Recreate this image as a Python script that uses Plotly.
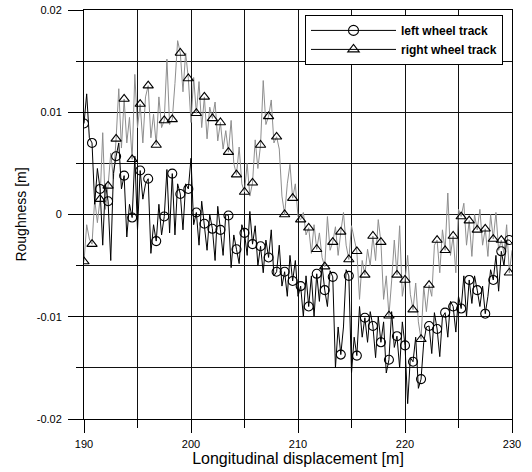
import numpy as np
import plotly.graph_objects as go

# Longitudinal displacement grid [m]
x_start, x_end, n_pts = 190.0, 230.0, 161
marker_every = 3

left_track = [
    0.0089, 0.0118, 0.0075,  0.0070, 0.0010, 0.0045,  0.0025, -0.0030, 0.0030,
    0.0013, -0.0045, 0.0040,  0.0057, 0.0070, 0.0025,  0.0038, -0.0022, 0.0010,
    -0.0003, 0.0057, -0.0015,  0.0043, 0.0015, 0.0030,  0.0035, -0.0038, -0.0010,
    -0.0026, 0.0010, -0.0020,  -0.0002, 0.0044, -0.0018,  0.0040, -0.0020, 0.0030,
    0.0020, -0.0015, 0.0030,  0.0025, 0.0055, -0.0010,  0.0002, -0.0030, 0.0013,
    -0.0009, -0.0035, 0.0000,  -0.0014, -0.0045, 0.0008,  -0.0015, -0.0040, 0.0000,
    -0.0001, -0.0052, -0.0020,  -0.0034, -0.0048, -0.0010,  -0.0018, -0.0040, 0.0003,
    -0.0029, -0.0011, -0.0050,  -0.0031, -0.0057, -0.0025,  -0.0042, -0.0015, -0.0060,
    -0.0056, -0.0030, -0.0070,  -0.0056, -0.0080, -0.0040,  -0.0065, -0.0045, -0.0080,
    -0.0070, -0.0100, -0.0060,  -0.0090, -0.0060, -0.0100,  -0.0058, -0.0085, -0.0050,
    -0.0074, -0.0090, -0.0055,  -0.0061, -0.0150, -0.0110,  -0.0137, -0.0110, -0.0054,
    -0.0060, -0.0155, -0.0120,  -0.0138, -0.0090, -0.0120,  -0.0101, -0.0125, -0.0095,
    -0.0109, -0.0140, -0.0100,  -0.0125, -0.0105, -0.0155,  -0.0142, -0.0095, -0.0130,
    -0.0119, -0.0150, -0.0105,  -0.0128, -0.0185, -0.0140,  -0.0144, -0.0120, -0.0170,
    -0.0161, -0.0125, -0.0110,  -0.0109, -0.0136, -0.0096,  -0.0112, -0.0139, -0.0100,
    -0.0096, -0.0120, -0.0085,  -0.0090, -0.0115, -0.0080,  -0.0092, -0.0060, -0.0100,
    -0.0064, -0.0087, -0.0060,  -0.0074, -0.0090, -0.0070,  -0.0097, -0.0080, -0.0054,
    -0.0064, -0.0040, -0.0075,  -0.0036, -0.0050, -0.0025,  -0.0025, -0.0028,
]

right_track = [
    -0.0046, -0.0010, -0.0024,  -0.0029, 0.0015, -0.0008,  0.0015, 0.0080, 0.0005,
    0.0028, 0.0060, 0.0035,  0.0074, 0.0123, 0.0065,  0.0113, 0.0070, 0.0095,
    0.0054, 0.0137, 0.0085,  0.0108, 0.0070, 0.0115,  0.0126, 0.0075, 0.0098,
    0.0068, 0.0115, 0.0085,  0.0092, 0.0152, 0.0088,  0.0093, 0.0128, 0.0170,
    0.0158, 0.0120, 0.0158,  0.0133, 0.0090, 0.0134,  0.0099, 0.0130, 0.0085,
    0.0115, 0.0074, 0.0105,  0.0094, 0.0110, 0.0072,  0.0090, 0.0064, 0.0082,
    0.0061, 0.0092, 0.0050,  0.0039, 0.0066, 0.0030,  0.0022, 0.0050, 0.0018,
    0.0031, 0.0073, 0.0045,  0.0068, 0.0131, 0.0088,  0.0096, 0.0112, 0.0070,
    0.0076, 0.0064, 0.0018,  0.0000, 0.0030, 0.0049,  0.0016, 0.0030, -0.0002,
    -0.0005, 0.0002, -0.0020,  -0.0013, -0.0038, -0.0010,  -0.0034, -0.0018, -0.0042,
    -0.0051, -0.0002, -0.0035,  -0.0027, -0.0012, -0.0040,  -0.0017, 0.0002, -0.0030,
    -0.0044, -0.0011, -0.0025,  -0.0036, -0.0083, -0.0045,  -0.0059, -0.0034, -0.0050,
    -0.0021, -0.0045, -0.0005,  -0.0027, -0.0083, -0.0060,  -0.0099, -0.0065, -0.0025,
    -0.0059, -0.0011, -0.0080,  -0.0064, -0.0040, -0.0078,  -0.0093, -0.0067, -0.0105,
    -0.0122, -0.0070, -0.0095,  -0.0069, -0.0080, -0.0030,  -0.0025, -0.0057, -0.0015,
    -0.0035, 0.0021, -0.0040,  -0.0021, -0.0057, 0.0005,  -0.0002, 0.0011, -0.0030,
    -0.0006, -0.0041, 0.0000,  -0.0015, 0.0005, -0.0030,  -0.0014, -0.0041, 0.0000,
    -0.0024, 0.0002, -0.0035,  -0.0025, -0.0038, -0.0010,  -0.0057, -0.0035,
]

x_tickvals = [190, 200, 210, 220, 230]
x_ticktext = ["190", "200", "210", "220", "230"]
y_tickvals = [-0.02, -0.01, 0, 0.01, 0.02]
y_ticktext = ["-0.02", "-0.01", "0", "0.01", "0.02"]

series_names = ["left wheel track", "right wheel track"]

x = np.linspace(x_start, x_end, n_pts)
left = np.array(left_track)
right = np.array(right_track)
idx = np.arange(0, n_pts - 1, marker_every)

FONT = "Liberation Sans, Arial, sans-serif"
GRAY = "#8e8e8e"
GRID = "#111111"

fig = go.Figure()
# right wheel track (gray)
fig.add_trace(go.Scatter(x=x, y=right, mode="lines", line=dict(color=GRAY, width=1),
                         showlegend=False, hoverinfo="skip"))
# left wheel track (black)
fig.add_trace(go.Scatter(x=x, y=left, mode="lines", line=dict(color="black", width=1),
                         showlegend=False, hoverinfo="skip"))
fig.add_trace(go.Scatter(x=x[idx], y=right[idx], mode="markers",
                         marker=dict(symbol="triangle-up-open", size=9, color="black",
                                     line=dict(width=1.1, color="black")),
                         showlegend=False))
fig.add_trace(go.Scatter(x=x[idx], y=left[idx], mode="markers",
                         marker=dict(symbol="circle-open", size=9, color="black",
                                     line=dict(width=1.1, color="black")),
                         showlegend=False))
# legend entries
fig.add_trace(go.Scatter(x=[None], y=[None], mode="lines+markers", name=series_names[0],
                         line=dict(color="black", width=1),
                         marker=dict(symbol="circle-open", size=10, color="black",
                                     line=dict(width=1.1))))
fig.add_trace(go.Scatter(x=[None], y=[None], mode="lines+markers", name=series_names[1],
                         line=dict(color="black", width=1),
                         marker=dict(symbol="triangle-up-open", size=10, color="black",
                                     line=dict(width=1.1))))

axis_common = dict(
    showline=True, linecolor="black", linewidth=1, mirror=True,
    showgrid=True, gridcolor=GRID, gridwidth=1,
    ticks="outside", tickcolor="black", zeroline=False, automargin=False,
    tickfont=dict(family=FONT, size=11, color="black"),
)

fig.update_xaxes(
    range=[190, 230], tickvals=x_tickvals, ticktext=x_ticktext, ticklen=13,
    ticklabelstandoff=2,
    minor=dict(dtick=5, showgrid=True, gridcolor=GRID, gridwidth=1,
               ticks="outside", ticklen=8, tickcolor="black"),
    title=dict(text="Longitudinal displacement [m]", standoff=2,
               font=dict(family=FONT, size=16, color="black")),
    **axis_common,
)
fig.update_yaxes(
    range=[-0.02, 0.02], tickvals=y_tickvals, ticktext=y_ticktext, ticklen=15,
    ticklabelstandoff=4,
    minor=dict(dtick=0.005, showgrid=True, gridcolor=GRID, gridwidth=1,
               ticks="outside", ticklen=7, tickcolor="black"),
    title=dict(text="Roughness [m]", standoff=6,
               font=dict(family=FONT, size=14, color="black")),
    **axis_common,
)

fig.update_layout(
    width=532, height=472,
    margin=dict(l=84, r=20, t=10, b=53),
    paper_bgcolor="white", plot_bgcolor="white",
    font=dict(family=FONT, color="black"),
    legend=dict(x=0.979, y=0.988, xanchor="right", yanchor="top",
                bgcolor="white", bordercolor="black", borderwidth=1,
                font=dict(family=FONT, size=12, color="black", weight="bold"),
                itemwidth=85, tracegroupgap=0),
)

fig.write_html("out.html")
